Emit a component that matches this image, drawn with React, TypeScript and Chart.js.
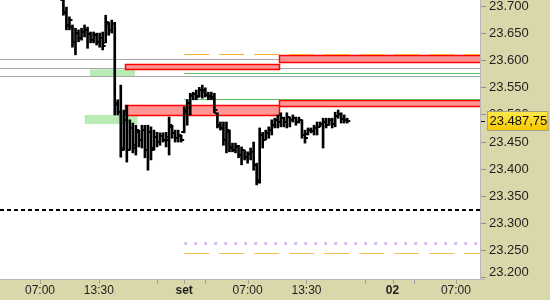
import React, { useEffect, useRef } from "react";
import { Chart, registerables } from "chart.js";
Chart.register(...registerables);

// 20-minute slots on a trading-time axis
const startSlot = 21;
const highs = [
  23720, 23698, 23680, 23665, 23659, 23656, 23659, 23665, 23661, 23652,
  23652, 23650, 23650, 23652, 23683, 23670, 23674, 23670, 23527, 23554,
  23508, 23517, 23490, 23484, 23480, 23471, 23480, 23480, 23480, 23477,
  23471, 23467, 23466, 23466, 23467, 23495, 23480, 23471, 23471, 23462,
  23514, 23527, 23539, 23541, 23545, 23550, 23554, 23549, 23541, 23541,
  23539, 23503, 23486, 23486, 23486, 23471, 23447, 23447, 23443, 23440,
  23434, 23431, 23438, 23449, 23410, 23475, 23467, 23471, 23477, 23490,
  23493, 23499, 23503, 23495, 23503, 23495, 23499, 23495, 23495, 23490,
  23471, 23475, 23475, 23480, 23486, 23486, 23493, 23493, 23493, 23493,
  23504, 23508, 23503, 23499, 23493,
];
const lows = [
  23683, 23656, 23656, 23624, 23610, 23634, 23637, 23643, 23622, 23632,
  23632, 23628, 23624, 23619, 23632, 23646, 23650, 23499, 23499, 23421,
  23434, 23412, 23434, 23429, 23425, 23440, 23438, 23420, 23397, 23416,
  23434, 23440, 23443, 23449, 23440, 23425, 23456, 23449, 23449, 23449,
  23466, 23480, 23499, 23527, 23527, 23532, 23530, 23532, 23527, 23527,
  23503, 23475, 23471, 23443, 23429, 23431, 23431, 23429, 23420, 23407,
  23416, 23410, 23416, 23397, 23370, 23373, 23438, 23453, 23456, 23462,
  23475, 23475, 23477, 23477, 23475, 23477, 23486, 23480, 23484, 23456,
  23447, 23462, 23466, 23462, 23462, 23477, 23438, 23475, 23480, 23475,
  23477, 23493, 23484, 23484, 23484,
];
const opens = [
  23711, 23689, 23665, 23661, 23634, 23650, 23641, 23652, 23656, 23648,
  23637, 23646, 23634, 23641, 23632, 23667, 23656, 23667, 23517, 23504,
  23438, 23490, 23434, 23475, 23443, 23467, 23453, 23471, 23434, 23467,
  23438, 23458, 23449, 23460, 23453, 23453, 23477, 23466, 23456, 23460,
  23467, 23504, 23521, 23534, 23538, 23534, 23545, 23545, 23536, 23534,
  23532, 23503, 23480, 23475, 23453, 23467, 23440, 23434, 23440, 23425,
  23434, 23421, 23427, 23431, 23407, 23379, 23462, 23453, 23466, 23471,
  23480, 23490, 23486, 23493, 23486, 23495, 23490, 23493, 23486, 23490,
  23462, 23464, 23471, 23469, 23475, 23477, 23482, 23486, 23480, 23490,
  23482, 23497, 23501, 23491, 23490,
];
const closes = [
  23687, 23663, 23674, 23634, 23650, 23641, 23652, 23656, 23648, 23637,
  23646, 23634, 23641, 23626, 23670, 23656, 23667, 23521, 23504, 23434,
  23490, 23434, 23475, 23438, 23471, 23453, 23471, 23434, 23467, 23434,
  23458, 23449, 23460, 23453, 23458, 23480, 23466, 23456, 23462, 23453,
  23508, 23521, 23536, 23538, 23532, 23545, 23541, 23536, 23532, 23530,
  23508, 23479, 23475, 23453, 23471, 23438, 23434, 23442, 23425, 23434,
  23421, 23427, 23431, 23407, 23375, 23462, 23453, 23466, 23471, 23480,
  23490, 23486, 23493, 23486, 23495, 23490, 23493, 23486, 23490, 23462,
  23456, 23471, 23469, 23475, 23477, 23482, 23486, 23480, 23490, 23482,
  23497, 23501, 23491, 23490, 23487.75,
];
const lastPrice = 23487.75;

// axis
const X_MIN = 0;
const X_MAX = 159.3;
const Y_MIN = 23196.3;
const Y_MAX = 23711.1;
const xLabelSlots = [13.25, 32.75, 61, 82, 101.5, 130, 151];
const xLabels = ["07:00", "13:30", "set", "07:00", "13:30", "02", "07:00"];
const xLabelBold = [false, false, true, false, false, true, false];
const xMinorSlots = [52, 68, 121, 137];
const yTickValues = [23200, 23250, 23300, 23350, 23400, 23450, 23500, 23550, 23600, 23650, 23700];

// levels
const grayLevels = [23601.7, 23585.1, 23570.9];
const greenLevels = [23576.4, 23528.4];
const orangeLevels = [23611.5, 23243.8];
const purpleLevel = 23263.3;
const blackDashLevel = 23323.6;
const levelStartSlot = 61;
// boxes: [fromSlot, toSlot, low, high]
const redBoxes = [
  [41.5, 92.5, 23583.8, 23593.0],
  [92.5, X_MAX, 23597.3, 23609.6],
  [41.5, 92.5, 23498.9, 23517.4],
  [92.5, X_MAX, 23514.6, 23527.5],
];
const greenBoxes = [
  [29.8, 44.7, 23570.9, 23583.2],
  [28.1, 45.6, 23482.3, 23498.9],
];

const FONT = "'Liberation Sans', Arial, sans-serif";
const KHAKI = "#dad8ab";

function fmtPrice(v: number, decimals = 0): string {
  const ip = Math.floor(v);
  const th = Math.floor(ip / 1000);
  const rest = String(ip % 1000).padStart(3, "0");
  let s = th + "." + rest;
  if (decimals > 0) {
    const frac = Math.round((v - ip) * Math.pow(10, decimals));
    s += "," + String(frac).padStart(decimals, "0");
  }
  return s;
}

const overlay = {
  id: "overlay",
  beforeDraw(chart: any) {
    const { ctx, chartArea: a, width, height } = chart;
    ctx.save();
    ctx.fillStyle = KHAKI;
    ctx.fillRect(0, 0, width, height);
    ctx.fillStyle = "#ffffff";
    ctx.fillRect(a.left, a.top, a.right - a.left, a.bottom - a.top);
    ctx.restore();
  },
  beforeDatasetsDraw(chart: any) {
    const { ctx, chartArea: a } = chart;
    const X = (v: number) => chart.scales.x.getPixelForValue(v);
    const Y = (v: number) => chart.scales.y.getPixelForValue(v);
    const hline = (v: number, x0: number, x1: number, color: string, w: number, dash: number[]) => {
      const y = Math.round(Y(v)) + (w % 2 ? 0.5 : 0);
      ctx.beginPath();
      ctx.setLineDash(dash);
      ctx.strokeStyle = color;
      ctx.lineWidth = w;
      ctx.moveTo(x0, y);
      ctx.lineTo(x1, y);
      ctx.stroke();
    };
    ctx.save();
    ctx.beginPath();
    ctx.rect(a.left, a.top, a.right - a.left, a.bottom - a.top);
    ctx.clip();
    // green zones
    ctx.fillStyle = "#b9ecb4";
    greenBoxes.forEach(([x0, x1, lo, hi]) => {
      const px0 = X(x0), px1 = X(x1), py0 = Y(hi), py1 = Y(lo);
      ctx.fillRect(px0, py0, px1 - px0, py1 - py0);
    });
    // gray levels
    grayLevels.forEach((v) => hline(v, a.left, a.right, "#a9a9a9", 1, []));
    // red zones
    redBoxes.forEach(([x0, x1, lo, hi]) => {
      const px0 = Math.round(X(x0)) + 0.5, px1 = Math.round(X(x1)) + 0.5;
      const py0 = Math.round(Y(hi)) + 0.5, py1 = Math.round(Y(lo)) + 0.5;
      ctx.setLineDash([]);
      ctx.fillStyle = "rgba(255,130,130,0.85)";
      ctx.fillRect(px0, py0, px1 - px0, py1 - py0);
      ctx.strokeStyle = "#ff0000";
      ctx.lineWidth = 1.5;
      ctx.strokeRect(px0, py0, px1 - px0, py1 - py0);
    });
    const lx = X(levelStartSlot);
    greenLevels.forEach((v) => hline(v, lx, a.right, "#5cc25c", 1, []));
    orangeLevels.forEach((v, i) => hline(v, lx, a.right, i === 0 ? "#f5ad2a" : "#f5be55", 1, [25, 10]));
    hline(purpleLevel, lx, a.right, "#dcbdef", 3, [3, 7]);
    hline(blackDashLevel, a.left, a.right, "#000000", 2, [4, 3]);
    ctx.restore();
  },
  afterDatasetsDraw(chart: any) {
    const { ctx, chartArea: a } = chart;
    const X = (v: number) => chart.scales.x.getPixelForValue(v);
    const Y = (v: number) => chart.scales.y.getPixelForValue(v);
    ctx.save();
    ctx.beginPath();
    ctx.rect(a.left, a.top, a.right - a.left, a.bottom - a.top);
    ctx.clip();
    ctx.fillStyle = "#000";
    opens.forEach((o, i) => {
      const x = X(startSlot + i);
      ctx.fillRect(x - 3, Math.round(Y(o)) - 1, 2, 2);
      ctx.fillRect(x + 1, Math.round(Y(closes[i])) - 1, 2, 2);
    });
    ctx.restore();
  },
  afterDraw(chart: any) {
    const { ctx, chartArea: a, width } = chart;
    const X = (v: number) => chart.scales.x.getPixelForValue(v);
    const Y = (v: number) => chart.scales.y.getPixelForValue(v);
    ctx.save();
    ctx.setLineDash([]);
    // borders
    ctx.strokeStyle = "#b8b8b8";
    ctx.lineWidth = 1;
    ctx.beginPath();
    ctx.moveTo(Math.round(a.right) - 0.5, 0);
    ctx.lineTo(Math.round(a.right) - 0.5, a.bottom);
    ctx.moveTo(0, Math.round(a.bottom) + 0.5);
    ctx.lineTo(a.right + 4, Math.round(a.bottom) + 0.5);
    ctx.stroke();
    // y ticks & labels
    ctx.font = "13px " + FONT;
    ctx.textBaseline = "middle";
    ctx.textAlign = "left";
    yTickValues.forEach((v) => {
      const y = Math.round(Y(v)) + 0.5;
      ctx.strokeStyle = "#909090";
      ctx.beginPath();
      ctx.moveTo(a.right, y);
      ctx.lineTo(a.right + 5, y);
      ctx.stroke();
      ctx.fillStyle = "#1e1e1e";
      ctx.fillText(fmtPrice(v), a.right + 8, Math.min(y, 272));
    });
    // x ticks & labels
    const allTicks = xLabelSlots.concat(xMinorSlots);
    ctx.strokeStyle = "#a0a0a0";
    allTicks.forEach((s) => {
      const x = Math.round(X(s)) + 0.5;
      ctx.beginPath();
      ctx.moveTo(x, a.bottom + 1);
      ctx.lineTo(x, a.bottom + 5);
      ctx.stroke();
    });
    ctx.textAlign = "center";
    xLabelSlots.forEach((s, i) => {
      ctx.font = (xLabelBold[i] ? "bold " : "") + "12px " + FONT;
      ctx.fillStyle = "#1e1e1e";
      ctx.fillText(xLabels[i], X(s), a.bottom + 12);
    });
    // last price label
    const py = Y(lastPrice);
    ctx.fillStyle = "#000";
    ctx.fillRect(a.right, Math.round(py), 4, 1);
    const bx = a.right + 6.5, by = Math.round(py) - 9.5, bw = width - bx - 2, bh = 19;
    const g = ctx.createLinearGradient(0, by, 0, by + bh);
    g.addColorStop(0, "#ffe94a");
    g.addColorStop(1, "#f6c800");
    ctx.fillStyle = g;
    ctx.fillRect(bx, by, bw, bh);
    ctx.strokeStyle = "#a8a080";
    ctx.strokeRect(bx, by, bw, bh);
    ctx.fillStyle = "#111";
    ctx.textAlign = "left";
    ctx.font = "13px " + FONT;
    ctx.fillText(fmtPrice(lastPrice, 2), bx + 2, by + bh / 2 + 0.5);
    ctx.restore();
  },
};

export default function App() {
  const ref = useRef<HTMLCanvasElement>(null);
  useEffect(() => {
    document.body.style.margin = "0";
    const canvas = ref.current!;
    const data = highs.map((h, i) => ({ x: startSlot + i, y: [lows[i], h] }));
    const chart = new Chart(canvas, {
      type: "bar",
      data: {
        datasets: [
          {
            data: data as any,
            backgroundColor: "#000",
            barThickness: 2,
            borderWidth: 0,
            grouped: false,
          } as any,
        ],
      },
      options: {
        responsive: false,
        animation: false,
        events: [],
        layout: { padding: 0 },
        plugins: { legend: { display: false }, tooltip: { enabled: false } },
        scales: {
          x: {
            type: "linear",
            min: X_MIN,
            max: X_MAX,
            offset: false,
            grid: { display: false },
            border: { display: false },
            ticks: { display: false },
            afterFit: (s: any) => {
              s.height = 21;
            },
          },
          y: {
            position: "right",
            min: Y_MIN,
            max: Y_MAX,
            grid: { display: false },
            border: { display: false },
            ticks: { display: false },
            afterFit: (s: any) => {
              s.width = 69;
            },
          },
        },
      } as any,
      plugins: [overlay],
    });
    return () => chart.destroy();
  }, []);
  return <canvas ref={ref} width={550} height={300} style={{ display: "block" }} />;
}
